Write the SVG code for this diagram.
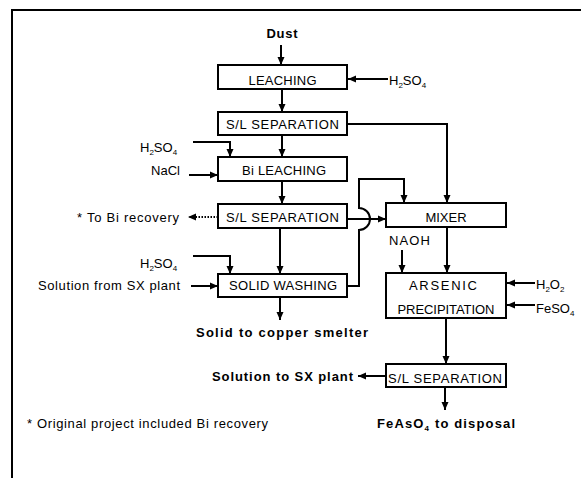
<svg xmlns="http://www.w3.org/2000/svg" width="581" height="478" viewBox="0 0 581 478">
<style>
text{font-family:"Liberation Sans",Arial,sans-serif;font-size:13px;fill:#000}
.b{font-weight:bold}
.c{text-anchor:middle}
.e{text-anchor:end}
.box{fill:#fff;stroke:#000;stroke-width:2}
.ln{fill:none;stroke:#000;stroke-width:2}
.ar{marker-end:url(#ah)}
.dot{stroke-dasharray:1.5 1.5}
.s{font-size:8px}
</style>
<defs>
<marker id="ah" markerUnits="userSpaceOnUse" markerWidth="9" markerHeight="8" refX="8" refY="4" orient="auto">
<path d="M0,0.5 L8,4 L0,7.5 z" fill="#000"/>
</marker>
</defs>
<rect x="12" y="10" width="600" height="500" fill="none" stroke="#000" stroke-width="2"/>

<g id="connectors">
<line class="ln ar" x1="281" y1="45" x2="281" y2="65"/>
<line class="ln ar" x1="388" y1="79" x2="348" y2="79"/>
<line class="ln ar" x1="282" y1="89" x2="282" y2="112"/>
<polyline class="ln ar" points="347,124 447,124 447,203"/>
<line class="ln ar" x1="282" y1="135" x2="282" y2="157"/>
<polyline class="ln ar" points="193,142 230,142 230,157"/>
<line class="ln ar" x1="189" y1="175" x2="218" y2="175"/>
<line class="ln ar" x1="282" y1="181" x2="282" y2="204"/>
<line class="ln ar dot" x1="218" y1="217" x2="188" y2="217"/>
<line class="ln ar" x1="347" y1="219" x2="386" y2="219"/>
<line class="ln ar" x1="280" y1="228" x2="280" y2="274"/>
<polyline class="ln ar" points="193,256 230,256 230,274"/>
<line class="ln ar" x1="191" y1="286" x2="218" y2="286"/>
<line class="ln ar" x1="280" y1="297" x2="280" y2="320"/>
<path class="ln ar" d="M347,286 L359,286 L359,230 A11,11 0 0 0 359,208 L359,179 L404,179 L404,203"/>
<line class="ln ar" x1="447" y1="227" x2="447" y2="273"/>
<line class="ln ar" x1="402" y1="250" x2="402" y2="273"/>
<line class="ln ar" x1="535" y1="283" x2="507" y2="283"/>
<line class="ln ar" x1="535" y1="305" x2="507" y2="305"/>
<line class="ln ar" x1="446" y1="318" x2="446" y2="364"/>
<line class="ln ar" x1="386" y1="376" x2="358" y2="376"/>
<line class="ln ar" x1="445" y1="387" x2="445" y2="410"/>
</g>

<g id="dust"><text class="b c" x="282" y="38" textLength="31">Dust</text></g>
<g id="leaching"><rect class="box" x="218" y="65" width="129" height="24"/><text class="c" x="282.5" y="85" textLength="68">LEACHING</text></g>
<g id="h2so4-1"><text x="389" y="85">H<tspan class="s" dy="3">2</tspan><tspan dy="-3">SO</tspan><tspan class="s" dy="3">4</tspan></text></g>
<g id="sl1"><rect class="box" x="218" y="112" width="129" height="23"/><text class="c" x="282.5" y="129" textLength="113">S/L SEPARATION</text></g>
<g id="h2so4-2"><text x="140" y="152">H<tspan class="s" dy="3">2</tspan><tspan dy="-3">SO</tspan><tspan class="s" dy="3">4</tspan></text></g>
<g id="nacl"><text class="e" x="180" y="175">NaCl</text></g>
<g id="bileach"><rect class="box" x="218" y="157" width="129" height="24"/><text class="c" x="284" y="175" textLength="84">Bi LEACHING</text></g>
<g id="sl2"><rect class="box" x="218" y="204" width="129" height="24"/><text class="c" x="282.5" y="222" textLength="113">S/L SEPARATION</text></g>
<g id="birec"><text class="e" x="179" y="222" textLength="102">* To Bi recovery</text></g>
<g id="mixer"><rect class="box" x="386" y="203" width="120" height="24"/><text class="c" x="446" y="222">MIXER</text></g>
<g id="naoh"><text x="389" y="245" textLength="41">NAOH</text></g>
<g id="h2so4-3"><text x="140" y="268">H<tspan class="s" dy="3">2</tspan><tspan dy="-3">SO</tspan><tspan class="s" dy="3">4</tspan></text></g>
<g id="sxsol"><text class="e" x="180" y="290" textLength="142">Solution from SX plant</text></g>
<g id="washing"><rect class="box" x="218" y="274" width="129" height="23"/><text class="c" x="283" y="290" textLength="108">SOLID WASHING</text></g>
<g id="arsenic"><rect class="box" x="386" y="273" width="120" height="45"/><text class="c" x="443" y="290" textLength="68">ARSENIC</text><text class="c" x="446" y="314" textLength="97">PRECIPITATION</text></g>
<g id="h2o2"><text x="536" y="289">H<tspan class="s" dy="3">2</tspan><tspan dy="-3">O</tspan><tspan class="s" dy="3">2</tspan></text></g>
<g id="feso4"><text x="536" y="313">FeSO<tspan class="s" dy="3">4</tspan></text></g>
<g id="smelter"><text class="b" x="196" y="337" textLength="172">Solid to copper smelter</text></g>
<g id="sl3"><rect class="box" x="386" y="364" width="120" height="23"/><text class="c" x="445" y="383" textLength="114">S/L SEPARATION</text></g>
<g id="sxout"><text class="b e" x="353" y="381" textLength="141">Solution to SX plant</text></g>
<g id="feaso4"><text class="b" x="377" y="428" textLength="138">FeAsO<tspan class="s" dy="3">4</tspan><tspan dy="-3"> to disposal</tspan></text></g>
<g id="note"><text x="27" y="428" textLength="241">* Original project included Bi recovery</text></g>
</svg>
